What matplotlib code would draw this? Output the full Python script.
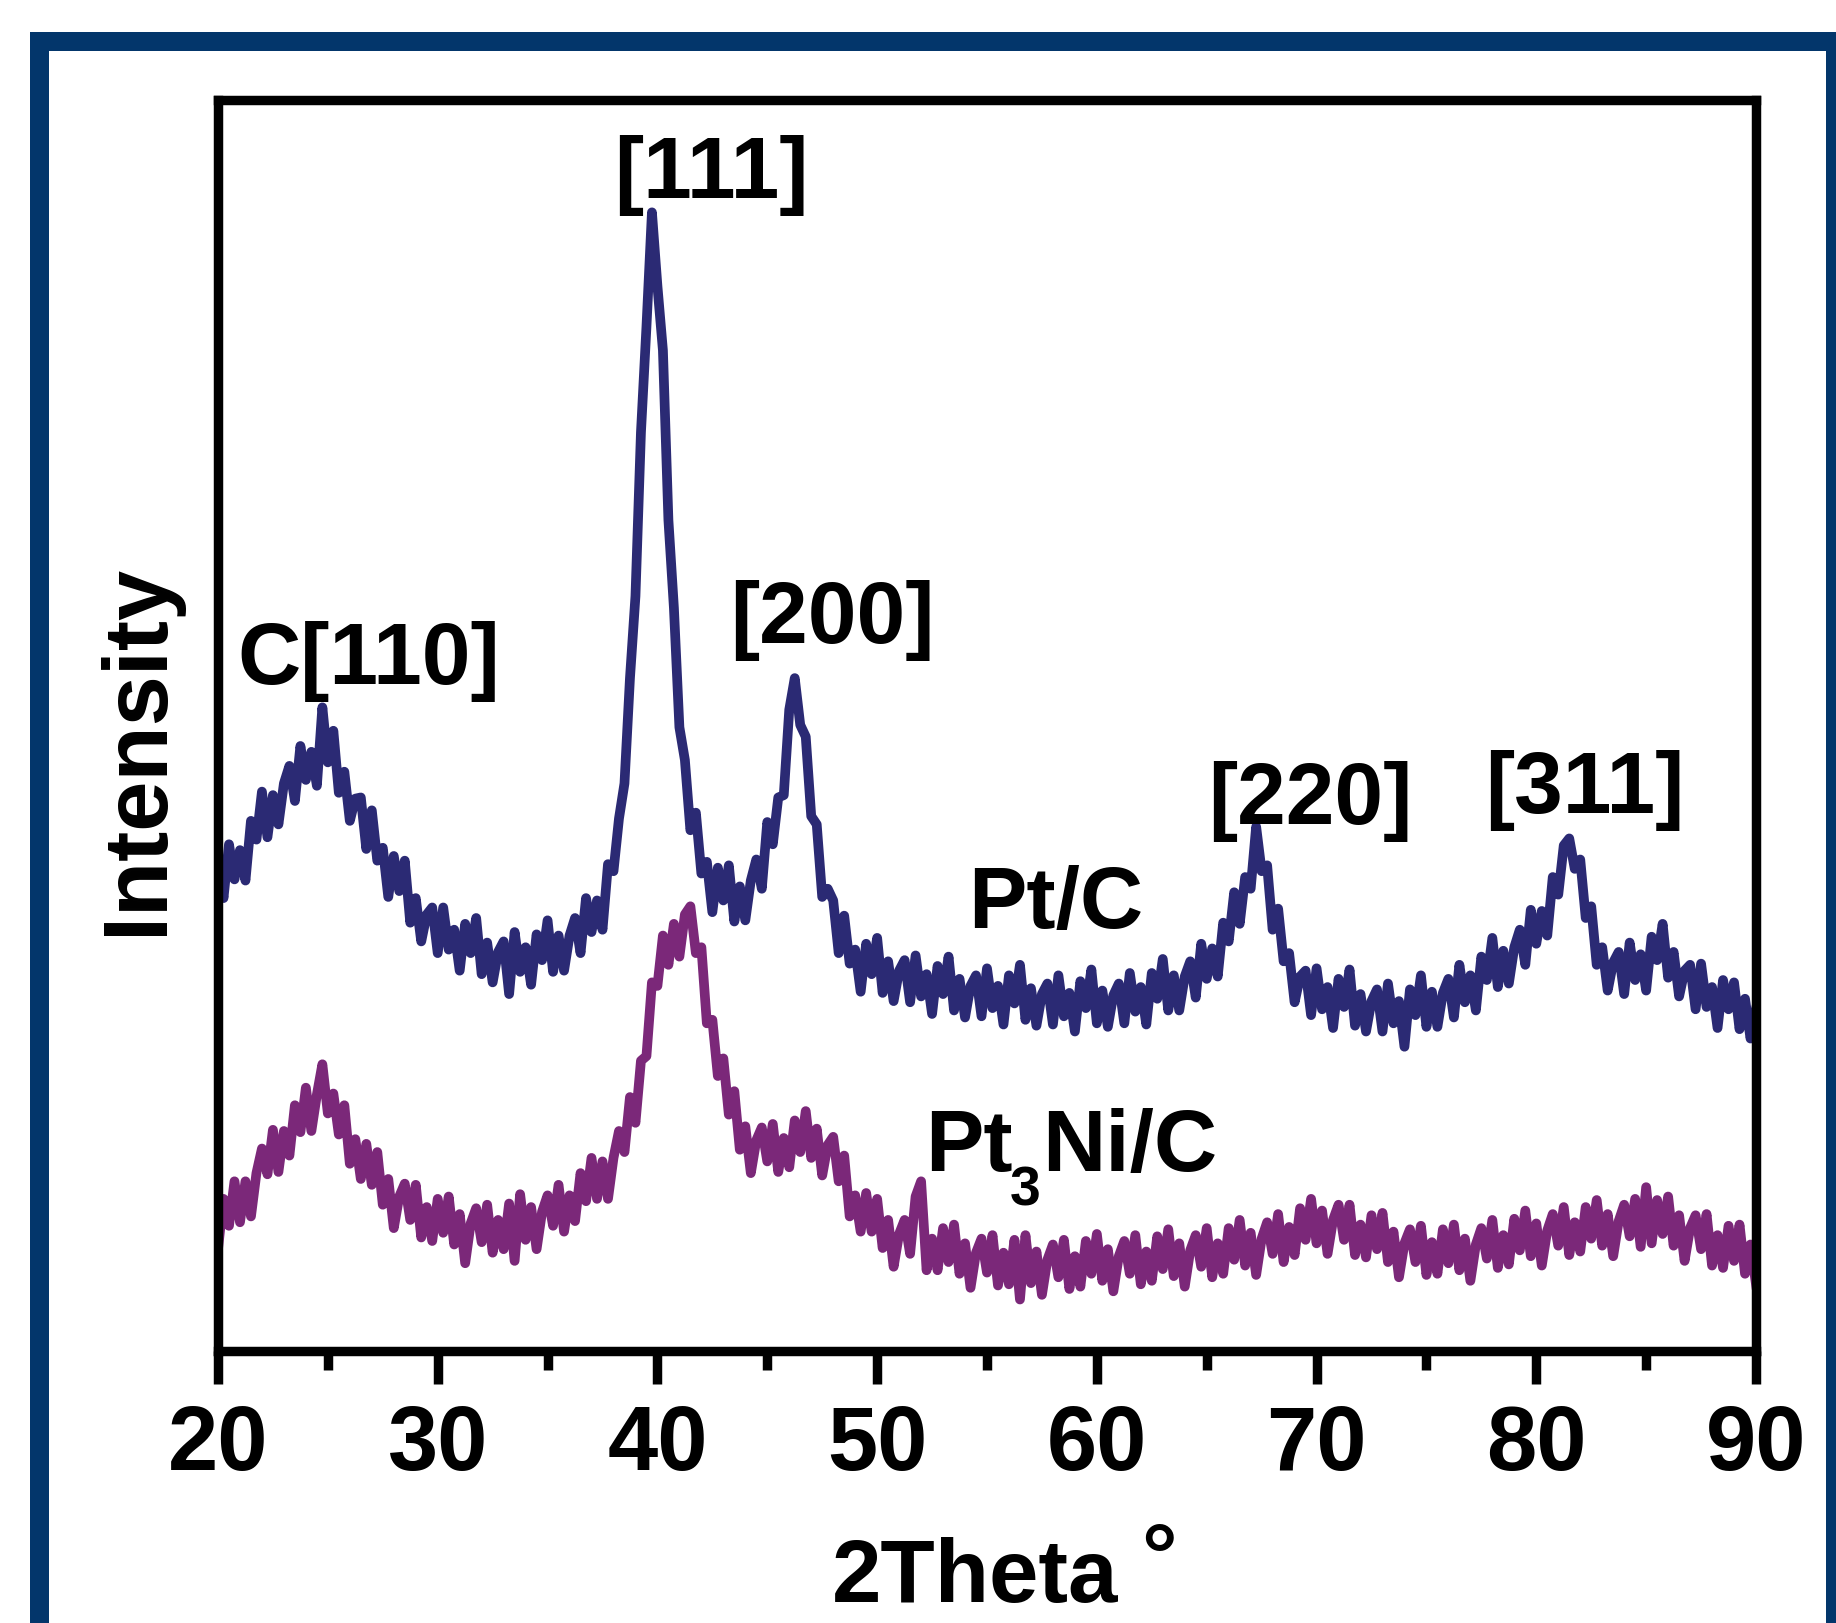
import numpy as np
import matplotlib
matplotlib.use("Agg")
import matplotlib.pyplot as plt
from matplotlib.patches import Rectangle

# ---------------- data ----------------
TWO_THETA_START = 20.0
TWO_THETA_STEP = 0.25

pt_c = [
    415, 382, 428, 398, 423, 397, 448, 432,
    473, 434, 470, 445, 480, 495, 465, 512,
    483, 507, 478, 545, 498, 525, 472, 490,
    448, 467, 468, 424, 457, 414, 425, 383,
    418, 388, 414, 361, 382, 345, 368, 374,
    335, 374, 338, 355, 320, 360, 335, 365,
    317, 344, 310, 336, 345, 300, 353, 319,
    340, 308, 351, 329, 363, 319, 350, 320,
    350, 365, 335, 382, 353, 380, 355, 411,
    405, 450, 480, 570, 640, 780, 870, 968,
    905, 850, 705, 630, 528, 500, 440, 455,
    403, 413, 370, 408, 380, 410, 362, 392,
    363, 397, 415, 390, 447, 428, 468, 470,
    543, 570, 530, 520, 452, 445, 383, 390,
    380, 335, 367, 326, 338, 302, 343, 317,
    348, 301, 328, 294, 320, 329, 293, 333,
    298, 317, 283, 324, 300, 332, 286, 313,
    280, 307, 316, 281, 322, 288, 307, 274,
    316, 292, 325, 278, 305, 273, 300, 309,
    274, 316, 281, 301, 268, 311, 288, 321,
    275, 303, 272, 299, 309, 275, 318, 285,
    306, 274, 318, 296, 330, 286, 316, 286,
    315, 328, 297, 343, 313, 339, 315, 361,
    345, 387, 360, 400, 390, 443, 405, 410,
    355, 373, 328, 335, 293, 315, 320, 282,
    322, 287, 306, 271, 313, 289, 321, 273,
    300, 268, 294, 304, 268, 309, 275, 294,
    255, 304, 282, 316, 272, 302, 272, 301,
    313, 280, 325, 293, 316, 286, 332, 312,
    348, 306, 337, 309, 340, 355, 325, 372,
    343, 371, 350, 400, 385, 427, 433, 407,
    415, 365, 375, 325, 340, 303, 327, 336,
    300, 344, 312, 334, 303, 349, 329, 360,
    314, 336, 298, 320, 325, 287, 326, 289,
    306, 271, 312, 287, 310, 270, 296, 262,
    287,
]

pt3ni_c = [
    82, 125, 102, 140, 105, 140, 110, 147,
    168, 146, 184, 148, 183, 162, 205, 182,
    220, 183, 214, 240, 198, 215, 180, 205,
    155, 176, 142, 172, 137, 165, 120, 142,
    100, 127, 138, 107, 137, 92, 118, 89,
    125, 96, 127, 86, 112, 70, 104, 117,
    88, 120, 79, 107, 82, 121, 72, 129,
    90, 118, 82, 114, 128, 102, 137, 97,
    128, 106, 147, 123, 160, 125, 157, 125,
    160, 183, 165, 212, 190, 243, 247, 310,
    307, 350, 325, 360, 332, 368, 375, 335,
    340, 275, 278, 230, 245, 197, 217, 167,
    187, 147, 175, 186, 157, 189, 148, 177,
    152, 192, 165, 200, 160, 185, 145, 171,
    178, 140, 162, 110, 128, 97, 130, 97,
    125, 83, 107, 67, 95, 107, 78, 127,
    140, 64, 91, 64, 100, 71, 103, 61,
    87, 49, 79, 91, 62, 94, 51, 79,
    52, 90, 39, 94, 53, 80, 43, 73,
    86, 58, 90, 48, 76, 50, 89, 61,
    95, 55, 82, 46, 76, 89, 61, 94,
    52, 80, 55, 93, 65, 99, 59, 87,
    50, 81, 94, 67, 100, 58, 87, 61,
    100, 73, 107, 68, 96, 60, 91, 105,
    78, 112, 71, 101, 77, 117, 90, 125,
    87, 115, 78, 107, 120, 90, 120, 77,
    103, 75, 111, 82, 113, 71, 97, 58,
    87, 99, 71, 102, 60, 88, 61, 99,
    70, 103, 64, 91, 55, 86, 100, 74,
    107, 66, 94, 69, 108, 81, 115, 76,
    104, 68, 98, 112, 85, 118, 77, 105,
    80, 118, 91, 124, 85, 112, 76, 106,
    120, 93, 125, 84, 135, 87, 124, 95,
    127, 85, 111, 72, 100, 111, 82, 112,
    68, 94, 66, 102, 72, 103, 61, 86,
    52,
]

two_theta = TWO_THETA_START + TWO_THETA_STEP * np.arange(len(pt_c))

series_colors = ["#2b2a74", "#7b2879"]

peak_labels = ["C[110]", "[111]", "[200]", "[220]", "[311]"]
peak_label_x = [26.86, 42.45, 47.97, 69.69, 82.21]
peak_label_y = [566, 981, 601, 446, 456]

xticks_major = [20, 30, 40, 50, 60, 70, 80, 90]
xticks_minor = [25, 35, 45, 55, 65, 75, 85]

# ---------------- style ----------------
plt.rcParams["font.family"] = ["Liberation Sans", "DejaVu Sans"]
plt.rcParams["font.weight"] = "bold"

W, H = 1836, 1624
fig = plt.figure(figsize=(W / 100, H / 100), dpi=100)

# navy frame around the figure
frame_c = "#03366b"
fig.add_artist(Rectangle((30 / W, 0), 19 / W, (H - 33) / H, transform=fig.transFigure,
                         facecolor=frame_c, edgecolor="none"))
fig.add_artist(Rectangle((30 / W, (H - 52) / H), 1, 19 / H, transform=fig.transFigure,
                         facecolor=frame_c, edgecolor="none"))
fig.add_artist(Rectangle((1826 / W, 0), 0.1, (H - 33) / H, transform=fig.transFigure,
                         facecolor=frame_c, edgecolor="none"))

ax_l, ax_r, ax_t, ax_b = 218, 1756, 101, 1352
ax = fig.add_axes([ax_l / W, 1 - ax_b / H, (ax_r - ax_l) / W, (ax_b - ax_t) / H])

ax.plot(two_theta, pt_c, color=series_colors[0], lw=7, solid_joinstyle="round")
ax.plot(two_theta, pt3ni_c, color=series_colors[1], lw=7, solid_joinstyle="round")

ax.set_xlim(20, 90)
ax.set_ylim(-5, 1064)

for s in ax.spines.values():
    s.set_linewidth(6.8)

ax.set_xticks(xticks_major)
ax.set_xticks(xticks_minor, minor=True)
ax.set_xticklabels([str(t) for t in xticks_major])
ax.tick_params(axis="x", which="major", direction="out", length=23.5, width=6.8,
               labelsize=65, pad=14)
ax.tick_params(axis="x", which="minor", direction="out", length=13.5, width=6.8)
ax.tick_params(axis="y", left=False, labelleft=False)
for lab in ax.get_xticklabels():
    lab.set_fontweight("bold")

ax.set_xlabel("2Theta", fontsize=64, fontweight="bold")
ax.xaxis.set_label_coords(0.492, -0.148)
ax.text(0.612, -0.135, "\u00b0", transform=ax.transAxes, fontsize=64,
        fontweight="bold", ha="center", va="top")

ax.set_ylabel("Intensity", fontsize=65, fontweight="bold")
ax.yaxis.set_label_coords(-0.024, 0.482)

for lab, x, y in zip(peak_labels, peak_label_x, peak_label_y):
    ax.text(x, y, lab, fontsize=63, fontweight="bold", ha="center", va="baseline")

ax.text(58.12, 357, "Pt/C", fontsize=63, fontweight="bold", ha="center", va="baseline")

# "Pt3Ni/C" with a low subscript 3, built from three pieces
fig.canvas.draw()
renderer = fig.canvas.get_renderer()
t_pt = ax.text(52.17, 150, "Pt", fontsize=63, fontweight="bold", ha="left", va="baseline")
ext_pt = t_pt.get_window_extent(renderer)
x0_disp, y0_disp = ax.transData.transform((52.17, 150))
inv = ax.transData.inverted()
sub_x, _ = inv.transform((ext_pt.x1 - 3, y0_disp))
t_3 = ax.text(sub_x, 120, "3", fontsize=40, fontweight="bold", ha="left", va="baseline")
ext_3 = t_3.get_window_extent(renderer)
ni_x, _ = inv.transform((ext_3.x1 + 2, y0_disp))
ax.text(ni_x, 150, "Ni/C", fontsize=63, fontweight="bold", ha="left", va="baseline")

fig.savefig("out.png", dpi=100)
